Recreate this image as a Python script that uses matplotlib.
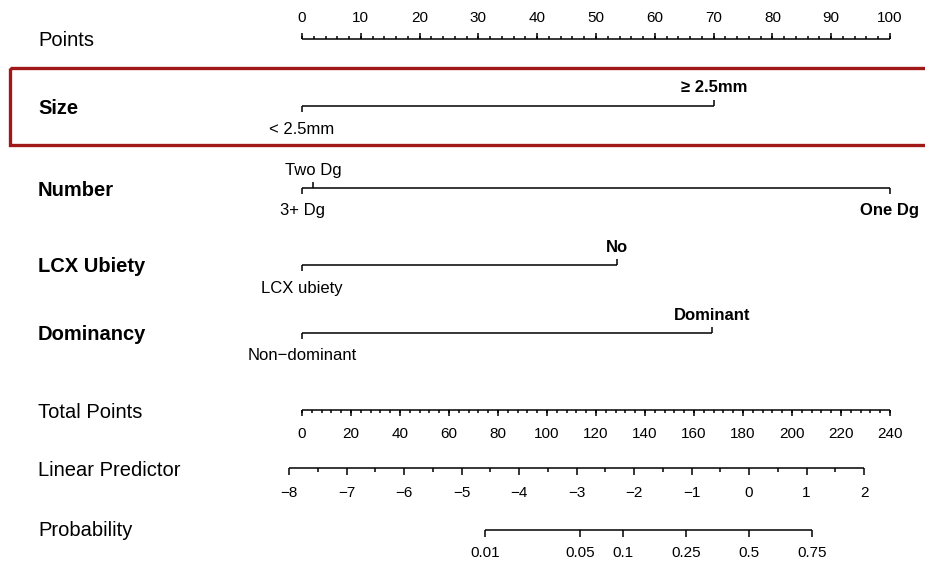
import numpy as np
import matplotlib.pyplot as plt
from matplotlib.patches import Rectangle

plt.rcParams['font.family'] = ['Liberation Sans', 'DejaVu Sans']

# values (points scale 0-100)
points_ticks = list(range(0, 101, 10))

size_levels = ['< 2.5mm', '≥ 2.5mm']
size_pts = [0, 70.1]
number_levels = ['3+ Dg', 'Two Dg', 'One Dg']
number_pts = [0, 1.9, 100]
lcx_levels = ['LCX ubiety', 'No']
lcx_pts = [0, 53.6]
dom_levels = ['Non\u2212dominant', 'Dominant']
dom_pts = [0, 69.8]

total_ticks = list(range(0, 241, 20))
lp_ticks = list(range(-8, 3))
prob_ticks = [0.01, 0.05, 0.1, 0.25, 0.5, 0.75]
prob_labels = ['0.01', '0.05', '0.1', '0.25', '0.5', '0.75']

TOTAL_MAX = 240
LP_B0 = -7.774   # linear predictor at 0 total points
LP_B1 = 0.0426   # per total point

PX_PER_PT = 5.88
X0_PX = 302
LEFT_X = -(X0_PX - 38) / PX_PER_PT


def total_to_pts(t):
    return np.asarray(t, dtype=float) * 100 / TOTAL_MAX


def lp_to_pts(lp):
    return total_to_pts((np.asarray(lp, dtype=float) - LP_B0) / LP_B1)


def prob_to_pts(p):
    p = np.asarray(p, dtype=float)
    return lp_to_pts(np.log(p / (1 - p)))


def fmt(v):
    return str(v).replace('-', '\u2212')


fig = plt.figure(figsize=(9.25, 5.63), dpi=100)
ax = fig.add_axes([0, 0, 1, 1])
ax.set_xlim(-X0_PX / PX_PER_PT, (925 - X0_PX) / PX_PER_PT)
ax.set_ylim(563, 0)
ax.axis('off')

LW = 1.1


def draw_scale(y, major, labels, minor=None, up=False, label_off=22,
               major_len=6, minor_len=3.5, fs=11):
    d = -1 if up else 1
    ax.plot([min(major), max(major)], [y, y], color='black', lw=LW,
            solid_capstyle='butt')
    ax.vlines(major, y, y + d * major_len, color='black', lw=LW)
    if minor is not None:
        ax.vlines(minor, y, y + d * minor_len, color='black', lw=LW)
    for x, lab in zip(major, labels):
        ax.text(x, y + d * label_off, lab, ha='center', va='center',
                fontsize=fs)


def draw_var(y, name, levels, pts):
    ax.plot([min(pts), max(pts)], [y, y], color='black', lw=LW,
            solid_capstyle='butt')
    for i, (lev, p) in enumerate(zip(levels, pts)):
        above = i % 2 == 1
        d = -1 if above else 1
        ax.vlines(p, y, y + d * 6, color='black', lw=LW)
        ax.text(p, y + (-18 if above else 23), lev, ha='center', va='center',
                fontsize=12, fontweight='bold' if p == max(pts) else 'normal')
    ax.text(LEFT_X, y + 2, name, ha='left', va='center', fontsize=14.5,
            fontweight='bold')


# Points
draw_scale(39, points_ticks, [str(v) for v in points_ticks],
           minor=np.arange(0, 101, 2), up=True, label_off=21,
           major_len=6, minor_len=3)
ax.text(LEFT_X, 41, 'Points', ha='left', va='center', fontsize=14.5)

# predictors
draw_var(106, 'Size', size_levels, size_pts)
draw_var(188, 'Number', number_levels, number_pts)
draw_var(265, 'LCX Ubiety', lcx_levels, lcx_pts)
draw_var(333, 'Dominancy', dom_levels, dom_pts)

# Total points
draw_scale(410, total_to_pts(total_ticks), [str(v) for v in total_ticks],
           minor=total_to_pts(np.arange(0, 241, 4)), label_off=24,
           major_len=6, minor_len=3)
ax.text(LEFT_X, 413, 'Total Points', ha='left', va='center', fontsize=14.5)

# Linear predictor
draw_scale(468, lp_to_pts(lp_ticks), [fmt(v) for v in lp_ticks],
           minor=lp_to_pts(np.arange(-7.5, 2, 1)), label_off=25,
           major_len=7, minor_len=4)
ax.text(LEFT_X, 471, 'Linear Predictor', ha='left', va='center', fontsize=14.5)

# Probability
draw_scale(530, prob_to_pts(prob_ticks), prob_labels, label_off=23,
           major_len=7)
ax.text(LEFT_X, 531, 'Probability', ha='left', va='center', fontsize=14.5)

# highlight box around Size
ax.add_patch(Rectangle((10 / 925, 68), 1.0, 77, transform=ax.get_yaxis_transform(),
                       fill=False, edgecolor='#a01818', lw=2.4, clip_on=False))

fig.savefig('out.png', dpi=100)
